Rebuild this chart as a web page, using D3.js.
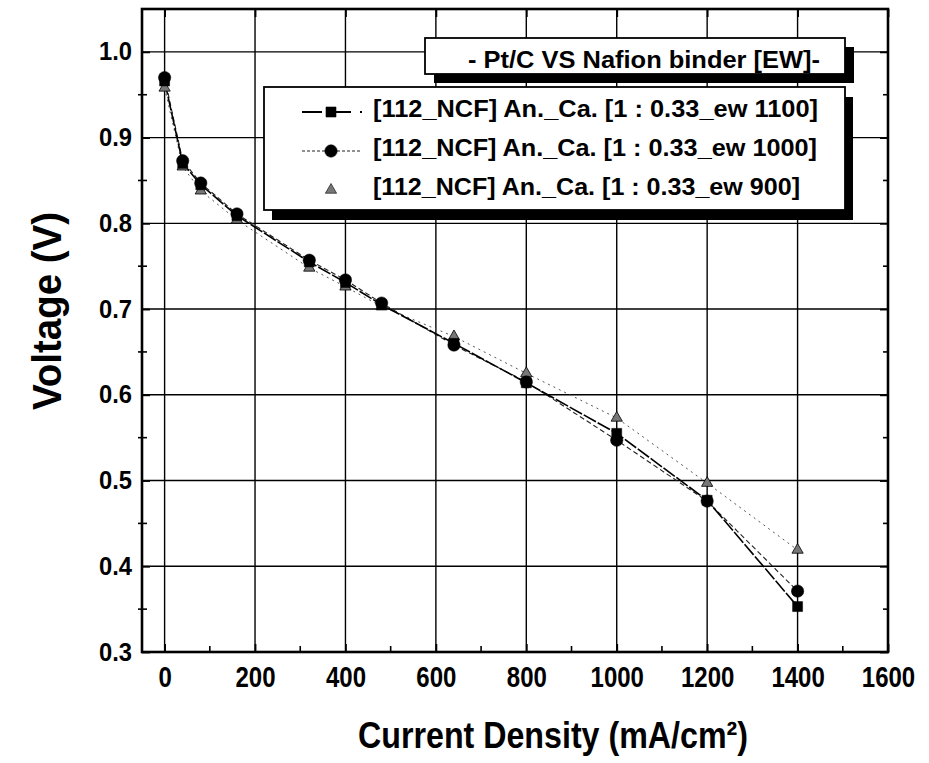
<!DOCTYPE html>
<html><head><meta charset="utf-8">
<script src="https://cdn.jsdelivr.net/npm/d3@7"></script>
<style>
html,body{margin:0;padding:0;background:#fff;}
svg{display:block;font-family:"Liberation Sans",Arial,Helvetica,sans-serif;font-weight:bold;}
</style></head>
<body><svg id="c" width="929" height="763"></svg>
<script>
// ---- data ----
const currentDensity = [0, 40, 80, 160, 320, 400, 480, 640, 800, 1000, 1200, 1400];
const ew1100 = [0.966, 0.870, 0.845, 0.809, 0.755, 0.731, 0.705, 0.660, 0.614, 0.555, 0.477, 0.353];
const ew1000 = [0.970, 0.873, 0.847, 0.811, 0.757, 0.734, 0.707, 0.658, 0.615, 0.547, 0.476, 0.371];
const ew900  = [0.958, 0.866, 0.838, 0.804, 0.748, 0.726, 0.703, 0.668, 0.625, 0.573, 0.497, 0.419];
const seriesNames = [
  "[112_NCF] An._Ca. [1 : 0.33_ew 1100]",
  "[112_NCF] An._Ca. [1 : 0.33_ew 1000]",
  "[112_NCF] An._Ca. [1 : 0.33_ew 900]"
];
const legendTitle = "- Pt/C VS Nafion binder [EW]-";
const xTicks = [0, 200, 400, 600, 800, 1000, 1200, 1400, 1600];
const yTicks = [0.3, 0.4, 0.5, 0.6, 0.7, 0.8, 0.9, 1.0];
const xMinor = [100, 300, 500, 700, 900, 1100, 1300, 1500];
const yMinor = [0.35, 0.45, 0.55, 0.65, 0.75, 0.85, 0.95];
const xTitle = "Current Density (mA/cm\u00B2)";
const yTitle = "Voltage (V)";

// ---- layout ----
const L = 142, R = 888, T = 9, B = 652;
const svg = d3.select("#c");
const x = d3.scaleLinear().domain([-50, 1600]).range([L, R]);
const y = d3.scaleLinear().domain([0.3, 1.05]).range([B, T]);

// grid
const grid = svg.append("g").attr("stroke", "#000").attr("stroke-width", 1.4);
grid.selectAll("line.v").data(xTicks.filter(d => d < 1600)).join("line")
  .attr("x1", d => x(d)).attr("x2", d => x(d)).attr("y1", T).attr("y2", B);
grid.selectAll("line.h").data(yTicks.filter(d => d > 0.3)).join("line")
  .attr("y1", d => y(d)).attr("y2", d => y(d)).attr("x1", L).attr("x2", R);

// axes via d3
const axB = svg.append("g").attr("transform", `translate(0,${B})`)
  .call(d3.axisBottom(x).tickValues(xTicks).tickSize(-8).tickPadding(14).tickFormat(d3.format("d")));
const axL = svg.append("g").attr("transform", `translate(${L},0)`)
  .call(d3.axisLeft(y).tickValues(yTicks).tickSize(-8).tickPadding(10).tickFormat(d3.format(".1f")));
const axT = svg.append("g").attr("transform", `translate(0,${T})`)
  .call(d3.axisTop(x).tickValues(xTicks).tickSize(-8).tickFormat(""));
const axR = svg.append("g").attr("transform", `translate(${R},0)`)
  .call(d3.axisRight(y).tickValues(yTicks).tickSize(-8).tickFormat(""));
[axB, axL, axT, axR].forEach(a => {
  a.select(".domain").remove();
  a.selectAll(".tick line").attr("stroke", "#000").attr("stroke-width", 1.8);
});
// minor ticks
svg.append("g").selectAll("line").data(xMinor).join("line")
  .attr("x1", d => x(d)).attr("x2", d => x(d)).attr("y1", B).attr("y2", B - 6)
  .attr("stroke", "#000").attr("stroke-width", 1.6);
svg.append("g").selectAll("line").data(yMinor).join("line")
  .attr("y1", d => y(d)).attr("y2", d => y(d)).attr("x1", L - 4).attr("x2", L + 5)
  .attr("stroke", "#000").attr("stroke-width", 1.6);
svg.append("g").selectAll("line").data(yMinor).join("line")
  .attr("y1", d => y(d)).attr("y2", d => y(d)).attr("x1", R - 5).attr("x2", R)
  .attr("stroke", "#000").attr("stroke-width", 1.6);

// tick labels styling
axB.selectAll(".tick text").attr("font-size", 30).attr("fill", "#000")
  .attr("font-family", "Liberation Sans, Arial, sans-serif").attr("font-weight", "bold")
  .each(function(){ const w = this.getComputedTextLength(); this.setAttribute("textLength", w*0.8); this.setAttribute("lengthAdjust","spacingAndGlyphs"); });
axL.selectAll(".tick text").attr("font-size", 25).attr("fill", "#000")
  .attr("font-family", "Liberation Sans, Arial, sans-serif").attr("font-weight", "bold")
  .each(function(){ const w = this.getComputedTextLength(); this.setAttribute("textLength", w*0.95); this.setAttribute("lengthAdjust","spacingAndGlyphs"); });

// border
svg.append("rect").attr("x", L).attr("y", T).attr("width", R - L).attr("height", B - T)
  .attr("fill", "none").attr("stroke", "#000").attr("stroke-width", 2.6);

// series
const series = [
  {vals: ew1100, dash: "14,2", w: 1.6, color: "#000", sym: d3.symbolSquare, size: 100, fill: "#000"},
  {vals: ew1000, dash: "5,3", w: 1.1, color: "#222", sym: d3.symbolCircle, size: 120, fill: "#000"},
  {vals: ew900, dash: "2,4", w: 1.0, color: "#555", sym: d3.symbolTriangle, size: 55, fill: "#777"}
];
const line = d3.line().x(d => x(d[0])).y(d => y(d[1]));
series.slice().reverse().forEach(s => {
  const pts = currentDensity.map((c, i) => [c, s.vals[i]]);
  svg.append("path").attr("d", line(pts)).attr("fill", "none")
    .attr("stroke", s.color).attr("stroke-width", s.w).attr("stroke-dasharray", s.dash);
});
series.slice().reverse().forEach(s => {
  const pts = currentDensity.map((c, i) => [c, s.vals[i]]);
  svg.append("g").selectAll("path").data(pts).join("path")
    .attr("d", d3.symbol().type(s.sym).size(s.size))
    .attr("transform", d => `translate(${x(d[0])},${y(d[1])})`)
    .attr("fill", s.fill).attr("stroke", "#000").attr("stroke-width", s.sym === d3.symbolTriangle ? 0.8 : 0.5);
});

// legend title box
const sh = 9;
svg.append("rect").attr("x", 425 + sh).attr("y", 38 + sh).attr("width", 420).attr("height", 36).attr("fill", "#000");
svg.append("rect").attr("x", 425).attr("y", 38).attr("width", 420).attr("height", 36)
  .attr("fill", "#fff").attr("stroke", "#000").attr("stroke-width", 1.8);
svg.append("text").attr("x", 468).attr("y", 68).attr("font-size", 23).attr("fill", "#000")
  .attr("textLength", 352).attr("lengthAdjust", "spacingAndGlyphs").text(legendTitle);

// legend box
svg.append("rect").attr("x", 264 + 8).attr("y", 87 + 10).attr("width", 581).attr("height", 123).attr("fill", "#000");
svg.append("rect").attr("x", 264).attr("y", 87).attr("width", 581).attr("height", 123)
  .attr("fill", "#fff").attr("stroke", "#000").attr("stroke-width", 1.8);
const legW = [445, 444, 427];
seriesNames.forEach((name, i) => {
  const s = series[i];
  const by = 117 + i * 39, cy = by - 5;
  if (i < 2) {
    svg.append("line").attr("x1", 302).attr("x2", 362).attr("y1", cy).attr("y2", cy)
      .attr("stroke", s.color).attr("stroke-width", i === 0 ? 2 : 1.2)
      .attr("stroke-dasharray", i === 0 ? "20,9" : "3,2");
  }
  svg.append("path").attr("d", d3.symbol().type(s.sym).size(s.size)())
    .attr("transform", `translate(331,${cy})`).attr("fill", s.fill).attr("stroke", "#000").attr("stroke-width", 0.6);
  svg.append("text").attr("x", 373).attr("y", by).attr("font-size", 23).attr("fill", "#000")
    .attr("textLength", legW[i]).attr("lengthAdjust", "spacingAndGlyphs").text(name);
});

// axis titles
svg.append("text").attr("x", 358).attr("y", 748).attr("font-size", 37).attr("fill", "#000")
  .attr("textLength", 390).attr("lengthAdjust", "spacingAndGlyphs").text(xTitle);

svg.append("text").attr("transform", "translate(61,311) rotate(-90)").attr("text-anchor", "middle")
  .attr("font-size", 40).attr("fill", "#000")
  .attr("textLength", 198).attr("lengthAdjust", "spacingAndGlyphs").text(yTitle);
</script>
</body></html>
